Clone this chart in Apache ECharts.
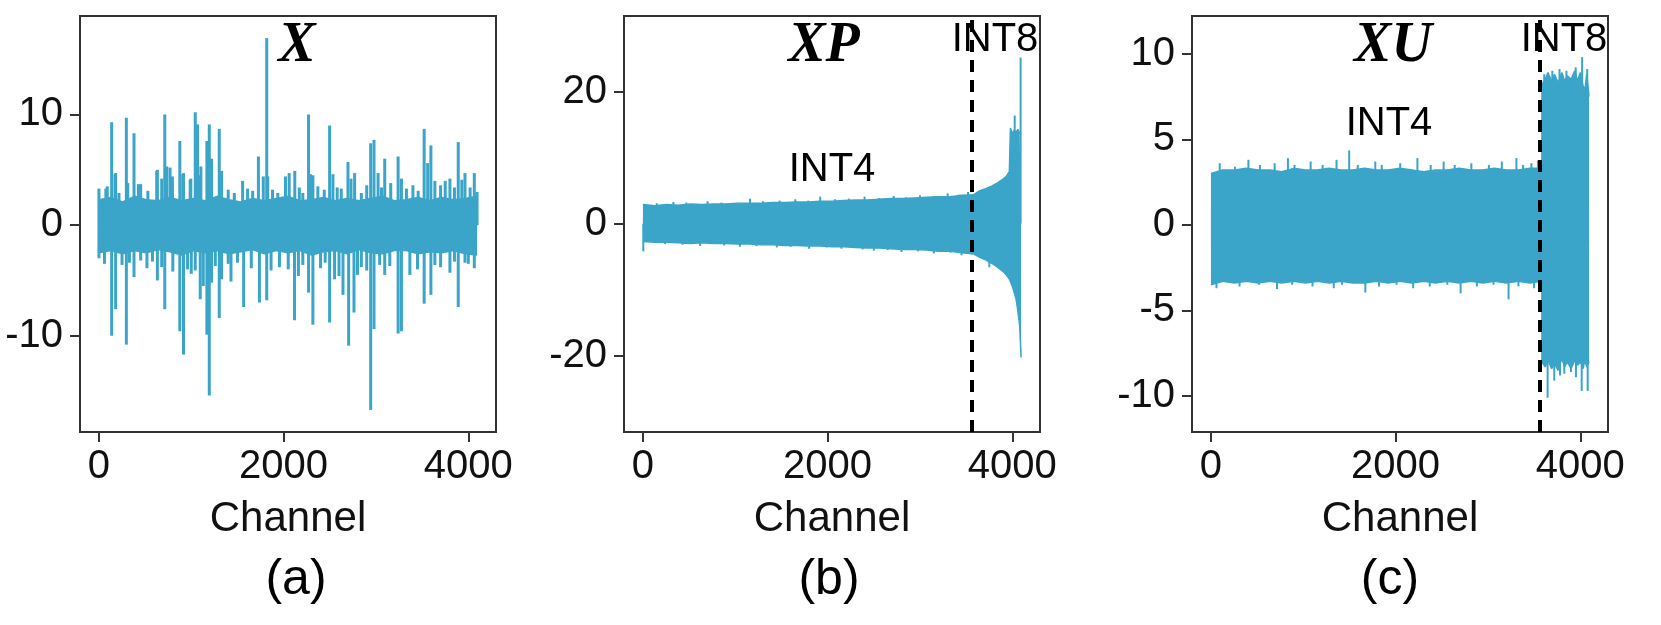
<!DOCTYPE html>
<html>
<head>
<meta charset="utf-8">
<script src="https://cdn.jsdelivr.net/npm/echarts@6/dist/echarts.min.js"></script>
<style>
  html, body { margin: 0; background: #fff; }
  #chart { width: 1661px; height: 625px; }
</style>
</head>
<body>
<div id="chart"></div>
<script>
// (a) X : band envelope every 128 channels + outlier spikes
const chA = [0,128,256,384,512,640,768,896,1024,1152,1280,1408,1536,1664,1792,1920,2048,2176,2304,2432,2560,2688,2816,2944,3072,3200,3328,3456,3584,3712,3840,3968,4095]
const hiA = [2.3,2.5,2.1,2.6,2.3,2.2,2.5,2.2,2.4,2.2,2.6,2.3,2.1,2.4,2.2,2.4,2.6,2.2,2.3,2.5,2.2,2.4,2.2,2.4,2.6,2.2,2.3,2.5,2.2,2.5,2.3,2.4,2.6]
const loA = [-2.5,-2.3,-2.6,-2.3,-2.5,-2.2,-2.4,-2.7,-2.3,-2.5,-2.3,-2.6,-2.4,-2.2,-2.6,-2.3,-2.5,-2.3,-2.7,-2.4,-2.3,-2.6,-2.2,-2.5,-2.6,-2.3,-2.3,-2.6,-2.4,-2.5,-2.3,-2.6,-2.7]
const spikesA = [
  [0,3.3],[75,3.3],[90,3.5],[138,9.3],[174,4.6],[181,4.7],[217,2.9],[297,9.7],[312,3.8],[380,8.3],[427,3.7],[452,3.7],
  [530,3.1],[626,4.9],[633,5.0],[680,4.2],[713,10.0],[735,5.3],[770,5.2],[796,4.4],[876,7.6],[908,4.6],[916,4.7],[988,4.1],
  [995,4.2],[1043,10.2],[1068,9.1],[1085,4.5],[1104,5.3],[1169,7.6],[1187,6.7],[1195,9.1],[1205,5.9],[1220,6.0],[1303,8.7],[1328,4.9],
  [1400,3.2],[1466,2.9],[1556,4.0],[1610,3.3],[1665,3.1],[1727,6.2],[1780,4.4],[1817,16.9],[1828,4.4],[1880,3.2],[1937,2.9],
  [2020,4.4],[2060,4.7],[2121,4.9],[2170,3.4],[2208,2.9],[2270,10.0],[2291,4.6],[2317,4.5],[2371,3.5],[2440,3.2],[2498,9.0],
  [2534,4.6],[2580,3.4],[2624,3.3],[2697,5.7],[2730,4.2],[2769,4.7],[2842,2.9],[2900,3.6],[2943,7.4],[2979,7.7],[3023,4.7],
  [3060,3.4],[3095,6.0],[3160,3.8],[3240,6.2],[3276,4.2],[3330,3.3],[3400,3.6],[3457,3.1],[3522,8.7],[3560,5.6],[3595,7.2],
  [3638,4.0],[3700,3.6],[3750,4.0],[3801,4.2],[3850,3.4],[3891,7.5],[3930,4.1],[3964,4.7],[4020,3.4],[4065,4.7],[4095,3.0],
  [0,-3.0],[60,-3.5],[138,-10.0],[181,-7.6],[250,-3.6],[297,-10.8],[330,-3.4],[380,-4.7],[452,-3.2],[520,-3.9],[580,-3.3],
  [633,-5.0],[680,-3.8],[713,-7.6],[800,-4.2],[876,-9.6],[916,-11.7],[960,-4.0],[1000,-4.4],[1043,-4.1],[1097,-6.7],[1130,-5.5],
  [1169,-9.9],[1195,-15.4],[1220,-5.2],[1260,-3.7],[1303,-8.4],[1328,-4.9],[1400,-3.5],[1430,-5.1],[1500,-3.4],[1567,-7.4],
  [1650,-3.9],[1738,-7.0],[1817,-6.8],[1864,-4.1],[1955,-3.8],[2050,-4.0],[2118,-8.6],[2160,-4.6],[2208,-3.6],[2270,-6.1],
  [2317,-9.0],[2400,-3.9],[2450,-3.4],[2498,-8.8],[2552,-4.9],[2600,-4.6],[2643,-6.3],[2704,-10.9],[2762,-7.9],[2800,-4.5],
  [2842,-3.8],[2900,-4.1],[2943,-16.7],[2979,-9.4],[3040,-3.6],[3095,-4.5],[3150,-3.7],[3240,-9.8],[3276,-9.6],[3367,-4.5],
  [3450,-4.0],[3522,-7.1],[3595,-6.3],[3638,-3.6],[3700,-3.8],[3801,-4.3],[3850,-3.3],[3891,-7.4],[3964,-3.4],[4000,-3.5],[4065,-3.9]
]

// (b) XP
const chB = [0,128,256,384,512,640,768,896,1024,1152,1280,1408,1536,1664,1792,1920,2048,2176,2304,2432,2560,2688,2816,2944,3072,3200,3328,3456,3584,
  3648,3712,3776,3840,3904,3936,3968,3980,4000,4020,4040,4060,4080,4095]
const hiB = [2.9,2.7,2.9,2.8,3.0,2.9,3.0,3.0,3.1,3.1,3.1,3.2,3.2,3.3,3.3,3.4,3.4,3.5,3.6,3.6,3.7,3.8,3.8,3.9,4.0,4.1,4.1,4.3,4.4,
  5.0,5.3,5.7,6.2,6.8,7.2,7.9,14.5,13.6,14.2,13.8,14.3,13.7,14.0]
const loB = [-2.7,-2.8,-2.8,-2.9,-3.0,-2.9,-3.0,-3.0,-3.1,-3.1,-3.2,-3.2,-3.3,-3.3,-3.4,-3.4,-3.5,-3.5,-3.6,-3.7,-3.7,-3.8,-3.9,-3.9,-4.0,-4.2,-4.2,-4.4,-4.6,
  -5.1,-5.5,-6.0,-6.6,-7.3,-7.8,-8.4,-8.8,-9.5,-10.4,-11.4,-13.2,-15.5,-20.3]
const spikesB = [
  [150,3.1],[330,3.3],[470,3.2],[700,3.4],[850,3.2],[1160,3.8],[1300,3.4],[1480,3.5],[1650,3.7],[1790,3.5],[1920,4.1],
  [2080,3.7],[2230,3.8],[2400,4.1],[2560,3.9],[2716,4.2],[2850,4.0],[3000,4.3],[3150,4.2],[3300,4.6],[3420,4.4],[3520,4.8],
  [4,-4.2],[240,-3.1],[430,-3.2],[620,-3.4],[880,-3.3],[1050,-3.5],[1230,-3.4],[1450,-3.6],[1600,-3.5],[1800,-3.8],[1990,-3.6],
  [2150,-3.8],[2380,-3.9],[2500,-4.1],[2650,-4.0],[2800,-4.3],[2980,-4.2],[3150,-4.5],[3330,-4.4],[3450,-4.8],[3751,-6.6],
  [4026,16.4],[4090,25.2]
]

// (c) XU
const chC = [0,128,256,384,512,640,768,896,1024,1152,1280,1408,1536,1664,1792,1920,2048,2176,2304,2432,2560,2688,2816,2944,3072,3200,3328,3456,3584,
  3585,3620,3650,3690,3720,3760,3800,3830,3860,3900,3940,3970,4000,4030,4050,4070,4095]
const hiC = [3.0,3.2,3.2,3.3,3.2,3.2,3.1,3.3,3.2,3.2,3.3,3.2,3.2,3.3,3.2,3.2,3.3,3.2,3.1,3.2,3.2,3.3,3.2,3.2,3.3,3.2,3.2,3.3,3.3,
  8.2,8.5,8.9,8.4,8.8,8.3,8.9,8.4,8.7,8.5,9.0,8.4,8.9,8.1,7.9,8.8,7.5]
const loC = [-3.5,-3.3,-3.4,-3.3,-3.4,-3.3,-3.4,-3.3,-3.4,-3.3,-3.4,-3.3,-3.4,-3.4,-3.3,-3.4,-3.3,-3.4,-3.3,-3.4,-3.3,-3.4,-3.3,-3.4,-3.3,-3.4,-3.3,-3.4,-3.3,
  -8.0,-8.3,-7.9,-8.4,-8.1,-8.5,-7.8,-8.3,-8.0,-8.4,-7.9,-8.2,-8.0,-8.4,-7.9,-8.3,-8.0]
const spikesC = [
  [95,3.6],[260,3.4],[406,3.8],[530,3.5],[690,3.6],[834,3.9],[905,3.5],[1080,3.7],[1210,3.5],[1360,3.8],[1497,4.35],
  [1590,3.5],[1780,3.7],[1850,3.5],[2050,3.6],[2236,3.9],[2380,3.5],[2520,3.7],[2640,3.5],[2820,3.6],[3010,3.5],[3150,3.7],
  [3308,3.9],[3380,3.5],[3470,3.6],[3541,3.75],
  [60,-3.7],[310,-3.6],[520,-3.5],[716,-3.75],[880,-3.5],[1100,-3.6],[1330,-3.7],[1420,-3.5],[1672,-3.95],[1820,-3.6],
  [2010,-3.5],[2190,-3.7],[2370,-3.6],[2560,-3.5],[2704,-4.0],[2880,-3.6],[3060,-3.5],[3223,-4.35],[3330,-3.6],[3500,-3.7],
  [3646,-10.1],[3718,-9.1],[3780,-8.8],[3827,-8.7],[3899,-8.6],[3953,-8.9],[4015,-9.7],[4080,-9.7],
  [3610,8.8],[3697,9.0],[3775,9.1],[3850,9.0],[3950,9.2],[4020,9.8],[4075,9.1]
]

const xTicks = [0, 2000, 4000]
const yTicksA = [-10, 0, 10]
const yTicksB = [-20, 0, 20]
const yTicksC = [-10, -5, 0, 5, 10]
const splitCh = 3560

const BLUE = '#3aa5c9'
const INK = '#111'
const FONT = '"Liberation Sans", Arial, sans-serif'

const chart = echarts.init(document.getElementById('chart'))

const panels = [
  { left: 80, ch: chA, hi: hiA, lo: loA, spikes: spikesA, barW: 3, yMin: -18.7, yMax: 18.9, yTicks: yTicksA, split: false },
  { left: 624, ch: chB, hi: hiB, lo: loB, spikes: spikesB, barW: 2, yMin: -31.6, yMax: 31.5, yTicks: yTicksB, split: true },
  { left: 1192, ch: chC, hi: hiC, lo: loC, spikes: spikesC, barW: 2, yMin: -12.1, yMax: 12.2, yTicks: yTicksC, split: true }
]

const grid = [], xAxis = [], yAxis = [], series = []
panels.forEach((p, i) => {
  grid.push({ left: p.left, top: 16, width: 416, height: 416, show: true, borderColor: '#333', borderWidth: 2 })
  xAxis.push({
    gridIndex: i, type: 'value', min: -205, max: 4300,
    axisLine: { show: false, onZero: false }, splitLine: { show: false },
    axisTick: { show: true, length: 10, customValues: xTicks, lineStyle: { color: '#333', width: 2 } },
    axisLabel: { customValues: xTicks, formatter: v => String(v), fontSize: 40, color: INK, margin: 15, fontFamily: FONT },
    name: 'Channel', nameLocation: 'middle', nameGap: 66,
    nameTextStyle: { fontSize: 42, color: INK, fontFamily: FONT }
  })
  yAxis.push({
    gridIndex: i, type: 'value', min: p.yMin, max: p.yMax,
    axisLine: { show: false, onZero: false }, splitLine: { show: false },
    axisTick: { show: true, length: 10, customValues: p.yTicks, lineStyle: { color: '#333', width: 2 } },
    axisLabel: { customValues: p.yTicks, formatter: v => String(v), fontSize: 40, color: INK, margin: 17, fontFamily: FONT }
  })
  // upper edge filled down past zero, lower edge filled up past zero, so the two overlap
  const band = (arr, origin) => ({
    type: 'line', xAxisIndex: i, yAxisIndex: i, symbol: 'none', silent: true,
    data: p.ch.map((c, k) => [c, arr[k]]),
    lineStyle: { color: BLUE, width: 1.5 },
    areaStyle: { color: BLUE, opacity: 1, origin }
  })
  series.push(band(p.hi, -1), band(p.lo, 1))
  series.push({
    type: 'bar', xAxisIndex: i, yAxisIndex: i, silent: true, barWidth: p.barW,
    data: p.spikes, itemStyle: { color: BLUE },
    markLine: p.split ? {
      silent: true, symbol: 'none', label: { show: false },
      lineStyle: { color: '#000', width: 4, type: [12, 8] },
      data: [{ xAxis: splitCh }]
    } : undefined
  })
})

const txt = (x, y, text, size, extra) => ({
  type: 'text', x, y, z: 100,
  style: Object.assign({ text, fontSize: size, fill: '#000', fontFamily: FONT, align: 'center', verticalAlign: 'middle' }, extra || {})
})
const mathStyle = { fontFamily: '"Liberation Serif", "Times New Roman", serif', fontWeight: 'bold', fontStyle: 'italic' }

chart.setOption({
  animation: false,
  grid, xAxis, yAxis, series,
  graphic: [
    txt(297, 47, 'X', 56, mathStyle),
    txt(824, 47, 'XP', 56, mathStyle),
    txt(1393, 47, 'XU', 56, mathStyle),
    txt(832, 170, 'INT4', 40),
    txt(995, 40, 'INT8', 40),
    txt(1389, 124, 'INT4', 40),
    txt(1564, 40, 'INT8', 40),
    txt(296, 580, '(a)', 50),
    txt(829, 580, '(b)', 50),
    txt(1390, 580, '(c)', 50)
  ]
})
</script>
</body>
</html>
